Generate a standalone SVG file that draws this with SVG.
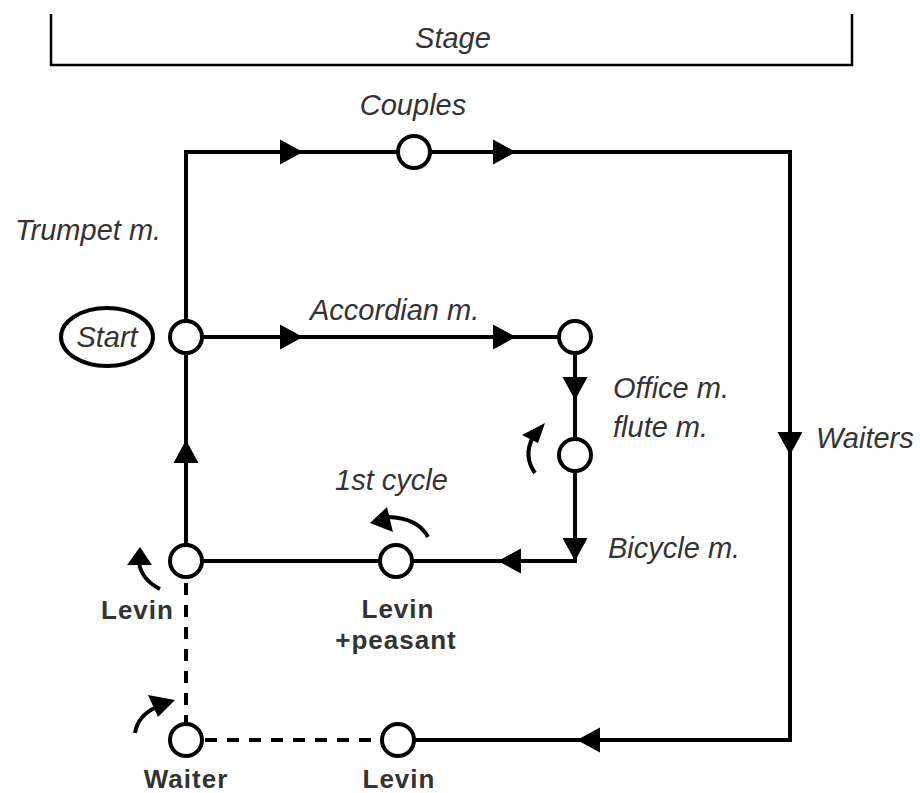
<svg xmlns="http://www.w3.org/2000/svg" width="920" height="793" viewBox="0 0 920 793">
<style>
.ln{fill:none;stroke:#000;stroke-width:4}
.dash{fill:none;stroke:#000;stroke-width:4;stroke-dasharray:12 10}
.nd{fill:#fff;stroke:#000;stroke-width:4}
.it{font-family:"Liberation Sans",Arial,sans-serif;font-style:italic;font-size:29px;fill:#333}
.rg{font-family:"Liberation Sans",Arial,sans-serif;font-size:26px;font-weight:bold;letter-spacing:1px;fill:#333}
.rot{fill:none;stroke:#000;stroke-width:4}
</style>
<defs>
<path id="ah" d="M0,0 L-23,-12.5 L-23,12.5 Z" fill="#000"/>
</defs>
<rect width="920" height="793" fill="#fff"/>
<g id="stage">
<path d="M51,14 V65 H852 V14" fill="none" stroke="#000" stroke-width="2.5"/>
<text class="it" x="453" y="48" text-anchor="middle">Stage</text>
</g>
<g id="connectors">
<path class="ln" d="M186,337 V152 H790 V740 H398"/>
<path class="ln" d="M186,337 H575 V561 H186 V337"/>
<path class="dash" d="M186,561 V740 H398"/>
<use href="#ah" transform="translate(303,152)"/>
<use href="#ah" transform="translate(516,152)"/>
<use href="#ah" transform="translate(303,337)"/>
<use href="#ah" transform="translate(516,337)"/>
<use href="#ah" transform="translate(575,400) rotate(90)"/>
<use href="#ah" transform="translate(575,561) rotate(90)"/>
<use href="#ah" transform="translate(498,561) rotate(180)"/>
<use href="#ah" transform="translate(186,440) rotate(-90)"/>
<use href="#ah" transform="translate(790,455) rotate(90)"/>
<use href="#ah" transform="translate(577,740) rotate(180)"/>
</g>
<g id="rotations">
<path class="rot" d="M428,537 Q418,518 388,517"/>
<polygon points="370,523 387,507 393,532" fill="#000"/>
<path class="rot" d="M535,473 Q523,456 533,437"/>
<polygon points="545,423 522,435 538,443" fill="#000"/>
<path class="rot" d="M160,589 Q142,580 139,563"/>
<polygon points="140,547 127,565 152,565" fill="#000"/>
<path class="rot" d="M135,733 Q138,715 157,707"/>
<polygon points="175,700 148,695 158,717" fill="#000"/>
</g>
<g id="couples">
<circle class="nd" cx="414" cy="152" r="16"/>
<text class="it" x="413" y="115" text-anchor="middle">Couples</text>
</g>
<g id="trumpet">
<text class="it" x="15" y="240">Trumpet m.</text>
</g>
<g id="start">
<ellipse class="nd" cx="107" cy="337" rx="46" ry="29"/>
<text class="it" x="107" y="347" text-anchor="middle">Start</text>
<circle class="nd" cx="186" cy="337" r="16"/>
</g>
<g id="accordian">
<circle class="nd" cx="575" cy="337" r="16"/>
<text class="it" x="310" y="320">Accordian m.</text>
</g>
<g id="office">
<circle class="nd" cx="575" cy="455" r="16"/>
<text class="it" x="613" y="398">Office m.</text>
<text class="it" x="613" y="437">flute m.</text>
</g>
<g id="waiters">
<text class="it" x="816" y="448">Waiters</text>
</g>
<g id="bicycle">
<text class="it" x="608" y="558">Bicycle m.</text>
</g>
<g id="cycle">
<text class="it" x="335" y="490">1st cycle</text>
</g>
<g id="levin1">
<circle class="nd" cx="186" cy="561" r="16"/>
<text class="rg" x="101" y="619">Levin</text>
</g>
<g id="levin2">
<circle class="nd" cx="396" cy="561" r="16"/>
<text class="rg" x="398" y="618" text-anchor="middle">Levin</text>
<text class="rg" x="396" y="649" text-anchor="middle">+peasant</text>
</g>
<g id="waiter">
<circle class="nd" cx="186" cy="740" r="16"/>
<text class="rg" x="186" y="788" text-anchor="middle">Waiter</text>
</g>
<g id="levin3">
<circle class="nd" cx="398" cy="740" r="16"/>
<text class="rg" x="399" y="788" text-anchor="middle">Levin</text>
</g>
</svg>
